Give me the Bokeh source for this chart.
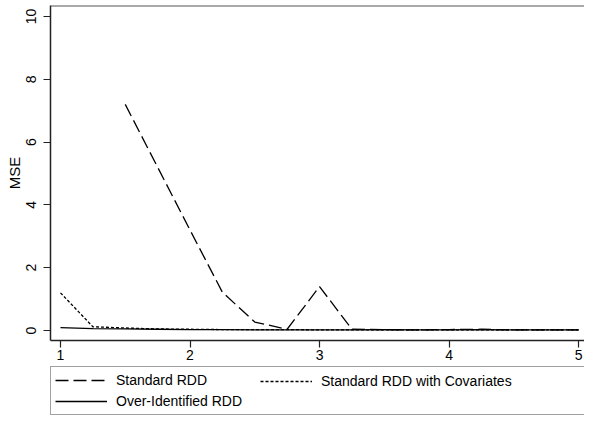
import numpy as np
from bokeh.plotting import figure
from bokeh.layouts import column
from bokeh.models import Range1d, FixedTicker, Legend, LegendItem, Span
from bokeh.embed import file_html
from bokeh.resources import INLINE

bandwidth = [1, 1.25, 1.5, 1.75, 2, 2.25, 2.5, 2.75, 3, 3.25, 3.5, 3.75, 4, 4.25, 4.5, 4.75, 5]
mse_standard = [np.nan, np.nan, 7.2, 5.2, 3.2, 1.22, 0.27, 0.04, 1.4, 0.04, 0.03, 0.02, 0.03, 0.04, 0.02, 0.02, 0.02]
mse_covariates = [1.2, 0.12, 0.08, 0.05, 0.04, 0.03, 0.03, 0.03, 0.02, 0.02, 0.02, 0.02, 0.02, 0.02, 0.02, 0.02, 0.02]
mse_overid = [0.09, 0.06, 0.05, 0.04, 0.03, 0.03, 0.02, 0.02, 0.02, 0.02, 0.03, 0.02, 0.02, 0.03, 0.02, 0.02, 0.02]
x_ticks = [1, 2, 3, 4, 5]
y_ticks = [0, 2, 4, 6, 8, 10]
series_names = ["Standard RDD", "Standard RDD with Covariates", "Over-Identified RDD"]

FONT = "Liberation Sans"
DASHES = ["13 5", "3 2", "solid"]
LEFT = 50

p = figure(width=584, height=366, output_backend="svg", toolbar_location=None,
           x_range=Range1d(0.9228, 5.046), y_range=Range1d(-0.318, 10.35),
           min_border_left=LEFT, min_border_right=0, min_border_top=5, min_border_bottom=26)
p.background_fill_color = "white"
p.border_fill_color = "white"
p.outline_line_color = None
p.grid.visible = False

for ys, dash in zip([mse_standard, mse_covariates, mse_overid], DASHES):
    p.line(bandwidth, ys, line_color="black", line_width=1.3, line_dash=dash)

top_line = Span(location=10.35, dimension="width", line_color="#555555", line_width=2)
p.add_layout(top_line)

for ax in (p.xaxis[0], p.yaxis[0]):
    ax.axis_line_color = "#222222"
    ax.axis_line_width = 1.5
    ax.major_tick_line_color = "#222222"
    ax.major_tick_line_width = 1.2
    ax.major_tick_out = 7
    ax.major_tick_in = 0
    ax.minor_tick_line_color = None
    ax.major_label_text_font = FONT
    ax.major_label_text_font_size = "14px"
    ax.major_label_text_color = "black"
    ax.axis_label_text_font = FONT
    ax.axis_label_text_font_size = "15px"
    ax.axis_label_text_font_style = "normal"
    ax.axis_label_text_color = "black"

p.xaxis[0].ticker = FixedTicker(ticks=x_ticks)
p.xaxis[0].major_label_standoff = 2
p.yaxis[0].ticker = FixedTicker(ticks=y_ticks)
p.yaxis[0].major_label_orientation = "vertical"
p.yaxis[0].major_label_standoff = 7
p.yaxis[0].axis_label = "MSE"
p.yaxis[0].axis_label_standoff = 1

# legend panel below the plot
lg = figure(width=584, height=50, output_backend="svg", toolbar_location=None,
            x_range=Range1d(0, 1), y_range=Range1d(0, 1),
            x_axis_location=None, y_axis_location=None,
            min_border_left=LEFT, min_border_right=0, min_border_top=0, min_border_bottom=0)
lg.outline_line_color = None
lg.grid.visible = False
lg.background_fill_color = "white"
lg.border_fill_color = "white"

lr = [lg.line([np.nan], [np.nan], line_color="black", line_width=1.3, line_dash=d) for d in DASHES]
blank = lg.line([np.nan], [np.nan], line_color="black", line_alpha=0)


def style(leg):
    leg.label_text_font = FONT
    leg.label_text_font_size = "14px"
    leg.label_text_color = "black"
    leg.glyph_width = 52
    leg.glyph_height = 18
    leg.label_height = 18
    leg.label_standoff = 9
    leg.spacing = 3
    leg.padding = 4
    leg.margin = 0


leg1 = Legend(items=[LegendItem(label=series_names[0], renderers=[lr[0]]),
                     LegendItem(label=series_names[2], renderers=[lr[2]])],
              location=(0, 1))
style(leg1)
leg1.label_width = 480
leg1.border_line_color = "#444444"
leg1.border_line_width = 1.2
leg1.background_fill_color = "white"
lg.add_layout(leg1)

leg2 = Legend(items=[LegendItem(label=series_names[1], renderers=[lr[1]]),
                     LegendItem(label=" ", renderers=[blank])],
              location=(210, 5))
style(leg2)
leg2.label_width = 100
leg2.border_line_color = None
leg2.background_fill_alpha = 0
lg.add_layout(leg2)

layout = column(p, lg, spacing=0)
open("out.html", "w").write(file_html(layout, INLINE))
